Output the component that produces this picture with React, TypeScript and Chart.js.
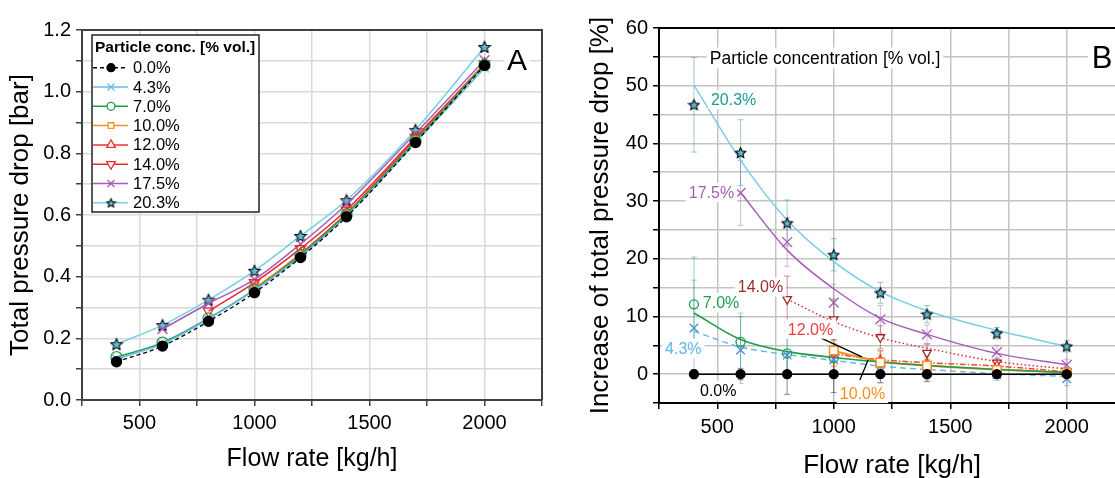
import React, { useEffect, useRef } from 'react';
import { Chart, registerables } from 'chart.js';
import { drawPoint } from 'chart.js/helpers';
Chart.register(...registerables);

const FONT = "'Liberation Sans', Arial, Helvetica, sans-serif";

// ---------- data ----------
const flowRates = [400, 600, 800, 1000, 1200, 1400, 1700, 2000];
const concLabels = ['0.0%', '4.3%', '7.0%', '10.0%', '12.0%', '14.0%', '17.5%', '20.3%'];

// Panel A: total pressure drop [bar]
const drop00 = [0.124, 0.175, 0.255, 0.348, 0.462, 0.594, 0.835, 1.085];
const drop43 = [0.133, 0.182, 0.263, 0.356, 0.465, 0.597, 0.834, 1.077];
const drop70 = [0.139, 0.186, 0.265, 0.358, 0.47, 0.602, 0.841, 1.087];
const drop100 = [null, null, null, 0.362, 0.471, 0.603, 0.841, 1.088];
const drop120 = [null, null, null, 0.36, 0.474, 0.606, 0.848, 1.09];
const drop140 = [null, null, 0.288, 0.381, 0.491, 0.616, 0.852, 1.09];
const drop175 = [null, 0.23, 0.313, 0.391, 0.506, 0.635, 0.865, 1.102];
const drop203 = [0.181, 0.243, 0.325, 0.419, 0.532, 0.648, 0.876, 1.145];

// Panel B: increase of total pressure drop [%]
const inc00 = [0, 0, 0, 0, 0, 0, 0, 0];
const inc43 = [8.0, 4.2, 3.3, 2.5, 0.5, 0.3, -0.1, -0.8];
const inc70 = [12.1, 5.6, 3.6, 2.8, 2.0, 1.4, 0.75, 0.2];
const inc100 = [null, null, null, 4.1, 2.0, 1.5, 0.7, 0.3];
const inc120 = [null, null, null, 3.3, 2.6, 2.0, 1.6, 0.3];
const inc140 = [null, null, 13.0, 9.5, 6.4, 3.7, 2.0, 0.5];
const inc175 = [null, 31.4, 22.9, 12.4, 9.5, 6.9, 3.8, 1.6];
const inc203 = [46.7, 38.4, 26.2, 20.7, 14.1, 10.4, 7.1, 4.85];

// Panel B: error bars (+/-)
const err00 = [0.8, 1.0, 3.5, 3.2, 1.5, 1.3, 0.7, 0.5];
const err43 = [8.3, 5.8, 4.0, 2.5, 2.0, 1.3, 1.0, 1.2];
const err70 = [8.2, 5.0, 4.0, 3.0, 2.0, 1.2, 0.8, 0.6];
const err100 = [null, null, null, 2.5, 1.5, 1.0, 0.8, 0.6];
const err120 = [null, null, null, 2.0, 1.5, 1.0, 0.8, 0.6];
const err140 = [null, null, 4.0, 3.5, 2.0, 1.5, 0.8, 0.6];
const err175 = [null, 5.6, 4.2, 3.2, 2.4, 1.6, 1.2, 1.0];
const err203 = [8.2, 5.7, 4.0, 2.8, 1.8, 1.5, 1.0, 1.0];

// Panel B: fitted curves
const fit43 = [7.45, 4.7, 3.4, 2.4, 1.4, 0.8, 0.1, -0.4];
const fit70 = [10.6, 6.0, 3.9, 2.9, 2.1, 1.5, 0.8, 0.3];
const fit100 = [null, null, null, 4.0, 2.2, 1.5, 0.8, 0.3];
const fit120 = [null, null, null, 3.5, 2.5, 2.0, 1.4, 0.4];
const fit140 = [null, null, 13.0, 9.1, 6.3, 4.5, 2.2, 0.9];
const fit175 = [null, 31.5, 21.5, 14.8, 9.7, 6.9, 3.6, 1.6];
const fit203 = [50.1, 37.1, 26.7, 19.5, 14.3, 11.0, 7.6, 4.8];

// ---------- helpers ----------
function pts(xs: number[], ys: (number | null)[], es?: (number | null)[]) {
  const out: any[] = [];
  xs.forEach((x, i) => {
    const y = ys[i];
    if (y !== null && y !== undefined) out.push({ x, y, e: es ? es[i] : null });
  });
  return out;
}

function makeStar(size: number, fill: string) {
  const c = document.createElement('canvas');
  c.width = size;
  c.height = size;
  const ctx = c.getContext('2d')!;
  const cx = size / 2, cy = size / 2 + 0.5;
  const R = size / 2 - 1, r = R * 0.47;
  ctx.beginPath();
  for (let i = 0; i < 10; i++) {
    const a = -Math.PI / 2 + (i * Math.PI) / 5;
    const rad = i % 2 === 0 ? R : r;
    ctx.lineTo(cx + rad * Math.cos(a), cy + rad * Math.sin(a));
  }
  ctx.closePath();
  ctx.fillStyle = fill;
  ctx.fill();
  ctx.lineWidth = 1.1;
  ctx.strokeStyle = '#000';
  ctx.stroke();
  return c;
}

const COL = {
  c00: '#000000',
  c43: '#6bb8ea',
  c43m: '#4a8fd6',
  c70: '#1f9d4b',
  c100: '#f7901e',
  c120: '#ee3333',
  c140: '#e42b2b',
  c140b: '#9b2a2a',
  c175: '#a65db6',
  c203: '#74d0e2',
  star: '#5cbdd2',
};

// ---------- plugins ----------
const frameA = {
  id: 'frameA',
  afterDraw(chart: any) {
    const { ctx, chartArea: a } = chart;
    ctx.save();
    ctx.strokeStyle = '#404040';
    ctx.lineWidth = 2;
    ctx.beginPath();
    ctx.moveTo(a.left, a.top);
    ctx.lineTo(a.right, a.top);
    ctx.lineTo(a.right, a.bottom);
    ctx.stroke();
    ctx.font = `30px ${FONT}`;
    ctx.textAlign = 'center';
    ctx.textBaseline = 'middle';
    const lx = a.right - 25, ly = a.top + 32;
    ctx.fillStyle = '#fff';
    ctx.fillRect(lx - 13, ly - 15, 26, 30);
    ctx.fillStyle = '#000';
    ctx.fillText('A', lx, ly);
    ctx.restore();
  },
};

const legendA = {
  id: 'legendA',
  afterDraw(chart: any) {
    const { ctx, chartArea: a } = chart;
    const left = a.left + 10, top = a.top + 5, w = 167, h = 177;
    ctx.save();
    ctx.fillStyle = '#fff';
    ctx.fillRect(left, top, w, h);
    ctx.strokeStyle = '#222';
    ctx.lineWidth = 1.5;
    ctx.strokeRect(left, top, w, h);
    ctx.fillStyle = '#000';
    ctx.textBaseline = 'middle';
    ctx.textAlign = 'left';
    ctx.font = `bold 15.5px ${FONT}`;
    ctx.fillText('Particle conc. [% vol.]', left + 3, top + 13);
    ctx.font = `16.5px ${FONT}`;
    chart.data.datasets.forEach((ds: any, i: number) => {
      const y = top + 32.7 + i * 19.3;
      ctx.save();
      ctx.strokeStyle = ds.borderColor;
      ctx.lineWidth = 1.5;
      ctx.setLineDash(ds.borderDash || []);
      ctx.beginPath();
      ctx.moveTo(left + 1, y);
      ctx.lineTo(left + 36, y);
      ctx.stroke();
      ctx.setLineDash([]);
      ctx.fillStyle = ds.legendFill || '#fff';
      ctx.strokeStyle = ds.pointBorderColor;
      ctx.lineWidth = 1.3;
      drawPoint(ctx, {
        pointStyle: ds.legendStyle || ds.pointStyle,
        rotation: ds.pointRotation || 0,
        radius: ds.legendRadius || 4,
        borderWidth: 1.3,
      } as any, left + 19, y);
      ctx.restore();
      ctx.fillStyle = '#000';
      ctx.fillText(ds.label, left + 41, y + 1);
    });
    ctx.restore();
  },
};

const errorBars = {
  id: 'errorBars',
  beforeDatasetsDraw(chart: any) {
    const { ctx, chartArea: a, scales } = chart;
    const xs = scales.x, ys = scales.y;
    ctx.save();
    ctx.beginPath();
    ctx.rect(a.left, a.top, a.width, a.height);
    ctx.clip();
    chart.data.datasets.forEach((ds: any) => {
      if (!ds.errorColor) return;
      ctx.strokeStyle = ds.errorColor;
      ctx.lineWidth = 1;
      ds.data.forEach((p: any) => {
        if (p.e === null || p.e === undefined) return;
        const px = xs.getPixelForValue(p.x);
        const y1 = ys.getPixelForValue(p.y + p.e);
        const y2 = ys.getPixelForValue(p.y - p.e);
        ctx.beginPath();
        ctx.moveTo(px, y1);
        ctx.lineTo(px, y2);
        ctx.moveTo(px - 3, y1);
        ctx.lineTo(px + 3, y1);
        ctx.moveTo(px - 3, y2);
        ctx.lineTo(px + 3, y2);
        ctx.stroke();
      });
    });
    ctx.restore();
  },
};

const annotationsB = [
  { text: 'Particle concentration [% vol.]', x: 468, y: 54.8, color: '#000', size: 17.5 },
  { text: '20.3%', x: 473, y: 47.6, color: '#1b9a9a', size: 16 },
  { text: '17.5%', x: 378, y: 31.5, color: '#a65db6', size: 16 },
  { text: '14.0%', x: 588, y: 15.1, color: '#9b2a2a', size: 16 },
  { text: '7.0%', x: 438, y: 12.4, color: '#1f9d4b', size: 16 },
  { text: '12.0%', x: 803, y: 7.8, color: '#f03c3c', size: 16 },
  { text: '4.3%', x: 276, y: 4.45, color: '#5fb4ea', size: 16 },
  { text: '0.0%', x: 426, y: -2.8, color: '#000', size: 16 },
  { text: '10.0%', x: 1026, y: -3.35, color: '#f7901e', size: 16 },
];
const leadersB = [
  [944, 6.3, 1121, 3.0],
  [1112, -1.0, 1147, 2.4],
];

const decorB = {
  id: 'decorB',
  afterDatasetsDraw(chart: any) {
    const { ctx, scales } = chart;
    const xs = scales.x, ys = scales.y;
    ctx.save();
    ctx.strokeStyle = '#000';
    ctx.lineWidth = 1.3;
    leadersB.forEach((l) => {
      ctx.beginPath();
      ctx.moveTo(xs.getPixelForValue(l[0]), ys.getPixelForValue(l[1]));
      ctx.lineTo(xs.getPixelForValue(l[2]), ys.getPixelForValue(l[3]));
      ctx.stroke();
    });
    ctx.textBaseline = 'middle';
    ctx.textAlign = 'left';
    annotationsB.forEach((t) => {
      ctx.font = `${t.size}px ${FONT}`;
      const px = xs.getPixelForValue(t.x);
      const py = ys.getPixelForValue(t.y);
      const w = ctx.measureText(t.text).width;
      ctx.fillStyle = '#fff';
      ctx.fillRect(px - 3, py - t.size * 0.6, w + 6, t.size * 1.2);
      ctx.fillStyle = t.color;
      ctx.fillText(t.text, px, py + 1);
    });
    ctx.restore();
  },
  afterDraw(chart: any) {
    const { ctx, chartArea: a } = chart;
    ctx.save();
    ctx.strokeStyle = '#000';
    ctx.lineWidth = 2;
    ctx.beginPath();
    ctx.moveTo(a.left, a.top);
    ctx.lineTo(a.right, a.top);
    ctx.lineTo(a.right, a.bottom);
    ctx.stroke();
    ctx.font = `31px ${FONT}`;
    ctx.textAlign = 'center';
    ctx.textBaseline = 'middle';
    const lx = 542, ly = a.top + 31;
    ctx.fillStyle = '#fff';
    ctx.fillRect(lx - 14, ly - 16, 28, 32);
    ctx.fillStyle = '#000';
    ctx.fillText('B', lx, ly);
    ctx.restore();
  },
};

export default function App() {
  const refA = useRef<HTMLCanvasElement>(null);
  const refB = useRef<HTMLCanvasElement>(null);

  useEffect(() => {
    const starA = makeStar(14, COL.star);
    const starLeg = makeStar(11, COL.star);
    const starB = makeStar(13, COL.star);

    const lineA = (label: string, vals: (number | null)[], color: string, style: any, extra: any = {}) => ({
      label,
      data: pts(flowRates, vals),
      borderColor: color,
      borderWidth: 1.5,
      pointStyle: style,
      pointRadius: 5,
      pointBorderColor: color,
      pointBackgroundColor: 'rgba(255,255,255,0)',
      pointBorderWidth: 1.3,
      cubicInterpolationMode: 'monotone',
      fill: false,
      ...extra,
    });

    const chartA = new Chart(refA.current!, {
      type: 'line',
      data: {
        datasets: [
          lineA(concLabels[0], drop00, COL.c00, 'circle', { borderDash: [4, 3], borderWidth: 1.3, pointBackgroundColor: '#000', legendFill: '#000', legendRadius: 4 }),
          lineA(concLabels[1], drop43, COL.c43, 'crossRot', { pointRadius: 6, legendRadius: 5 }),
          lineA(concLabels[2], drop70, COL.c70, 'circle', { pointRadius: 5.5 }),
          lineA(concLabels[3], drop100, COL.c100, 'rect', { pointRadius: 5.5 }),
          lineA(concLabels[4], drop120, COL.c120, 'triangle', { pointRadius: 6, legendRadius: 5 }),
          lineA(concLabels[5], drop140, COL.c140, 'triangle', { pointRadius: 6, pointRotation: 180, legendRadius: 5 }),
          lineA(concLabels[6], drop175, COL.c175, 'crossRot', { pointRadius: 7, legendRadius: 5 }),
          lineA(concLabels[7], drop203, COL.c203, starA, { legendStyle: starLeg, pointBorderColor: '#000' }),
        ],
      },
      options: {
        animation: false,
        responsive: false,
        maintainAspectRatio: false,
        layout: { padding: { left: 0, top: 30, right: 18, bottom: 0 } },
        plugins: { legend: { display: false }, tooltip: { enabled: false } },
        scales: {
          x: {
            type: 'linear',
            min: 250,
            max: 2250,
            afterFit: (s: any) => { s.height = 90; },
            ticks: {
              stepSize: 250,
              autoSkip: false,
              maxRotation: 0,
              padding: 5,
              color: '#000',
              font: { size: 20, family: FONT },
              callback: (v: any) => (Number(v) % 500 === 0 ? String(v) : ''),
            },
            grid: { color: '#dadada', lineWidth: 1.5, tickColor: '#404040', tickLength: 6 },
            border: { color: '#404040', width: 2 },
            title: { display: true, text: 'Flow rate [kg/h]', color: '#000', font: { size: 25, family: FONT }, padding: { top: 0, bottom: 16 } },
          },
          y: {
            min: 0,
            max: 1.2,
            afterFit: (s: any) => { s.width = 82; },
            ticks: {
              stepSize: 0.1,
              autoSkip: false,
              padding: 5,
              color: '#000',
              font: { size: 20, family: FONT },
              callback: (v: any) => (Math.round(Number(v) * 10) % 2 === 0 ? Number(v).toFixed(1) : ''),
            },
            grid: { color: '#dadada', lineWidth: 1.5, tickColor: '#404040', tickLength: 6 },
            border: { color: '#404040', width: 2 },
            title: { display: true, text: 'Total pressure drop [bar]', color: '#000', font: { size: 26, family: FONT }, padding: { top: 5, bottom: 0 } },
          },
        },
      } as any,
      plugins: [frameA, legendA],
    });

    const markB = (label: string, vals: (number | null)[], errs: (number | null)[], color: string, style: any, errColor: string, extra: any = {}) => ({
      label,
      data: pts(flowRates, vals, errs),
      showLine: false,
      borderColor: color,
      pointStyle: style,
      pointRadius: 4.5,
      pointBorderColor: color,
      pointBackgroundColor: 'rgba(255,255,255,0)',
      pointBorderWidth: 1.3,
      errorColor: errColor,
      order: 1,
      ...extra,
    });
    const fitB = (label: string, vals: (number | null)[], color: string, extra: any = {}) => ({
      label,
      data: pts(flowRates, vals),
      borderColor: color,
      borderWidth: 1.5,
      pointRadius: 0,
      cubicInterpolationMode: 'monotone',
      fill: false,
      order: 5,
      ...extra,
    });

    const chartB = new Chart(refB.current!, {
      type: 'line',
      data: {
        datasets: [
          markB(concLabels[0], inc00, err00, COL.c00, 'circle', 'rgba(0,0,0,0.45)', { showLine: true, borderWidth: 1.5, pointBackgroundColor: '#000', order: 0 }),
          markB(concLabels[1], inc43, err43, COL.c43m, 'crossRot', 'rgba(74,143,214,0.5)', { pointRadius: 6 }),
          markB(concLabels[2], inc70, err70, COL.c70, 'circle', 'rgba(31,157,75,0.45)', { pointRadius: 4.5 }),
          markB(concLabels[3], inc100, err100, COL.c100, 'rect', 'rgba(247,144,30,0.5)', { pointRadius: 6, pointBackgroundColor: '#fff', pointBorderWidth: 1.5, order: 0 }),
          markB(concLabels[4], inc120, err120, COL.c120, 'triangle', 'rgba(238,51,51,0.5)', { pointRadius: 4 }),
          markB(concLabels[5], inc140, err140, COL.c140b, 'triangle', 'rgba(155,42,42,0.5)', { pointRadius: 5, pointRotation: 180, pointBackgroundColor: '#fff' }),
          markB(concLabels[6], inc175, err175, COL.c175, 'crossRot', 'rgba(166,93,182,0.45)', { pointRadius: 7 }),
          markB(concLabels[7], inc203, err203, COL.c203, starB, 'rgba(60,150,160,0.5)', { pointBorderColor: '#000' }),
          fitB('fit 4.3%', fit43, COL.c43, { borderDash: [6, 4] }),
          fitB('fit 7.0%', fit70, COL.c70, { borderWidth: 1.6 }),
          fitB('fit 10.0%', fit100, COL.c100, { borderWidth: 2 }),
          fitB('fit 12.0%', fit120, '#f24a3a', { borderDash: [6, 2, 1.5, 2] }),
          fitB('fit 14.0%', fit140, COL.c140, { borderDash: [1.5, 2.5] }),
          fitB('fit 17.5%', fit175, COL.c175),
          fitB('fit 20.3%', fit203, COL.c203),
        ],
      },
      options: {
        animation: false,
        responsive: false,
        maintainAspectRatio: false,
        layout: { padding: { left: 0, top: 28, right: 15, bottom: 0 } },
        plugins: { legend: { display: false }, tooltip: { enabled: false } },
        scales: {
          x: {
            type: 'linear',
            min: 250,
            max: 2250,
            afterFit: (s: any) => { s.height = 87; },
            ticks: {
              stepSize: 250,
              autoSkip: false,
              maxRotation: 0,
              padding: 6,
              color: '#000',
              font: { size: 20, family: FONT },
              callback: (v: any) => (Number(v) % 500 === 0 ? String(v) : ''),
            },
            grid: { color: '#c4c4c4', lineWidth: 1.5, tickColor: '#000', tickLength: 6 },
            border: { color: '#000', width: 2 },
            title: { display: true, text: 'Flow rate [kg/h]', color: '#000', font: { size: 26, family: FONT }, padding: { top: 0, bottom: 9 } },
          },
          y: {
            min: -5,
            max: 60,
            afterFit: (s: any) => { s.width = 99; },
            ticks: {
              stepSize: 5,
              autoSkip: false,
              padding: 5,
              color: '#000',
              font: { size: 20, family: FONT },
              callback: (v: any) => (Number(v) % 10 === 0 ? String(v) : ''),
            },
            grid: { color: '#c4c4c4', lineWidth: 1.5, tickColor: '#000', tickLength: 6 },
            border: { color: '#000', width: 2 },
            title: { display: true, text: 'Increase of total pressure drop [%]', color: '#000', font: { size: 26, family: FONT }, padding: { top: 25, bottom: 0 } },
          },
        },
      } as any,
      plugins: [errorBars, decorB],
    });

    return () => {
      chartA.destroy();
      chartB.destroy();
    };
  }, []);

  return (
    <div style={{ position: 'absolute', left: 0, top: 0, width: 1115, height: 478, overflow: 'hidden', background: '#fff' }}>
      <canvas ref={refA} width={560} height={490} style={{ position: 'absolute', left: 0, top: 0, width: 560, height: 490 }} />
      <canvas ref={refB} width={580} height={490} style={{ position: 'absolute', left: 560, top: 0, width: 580, height: 490 }} />
    </div>
  );
}
